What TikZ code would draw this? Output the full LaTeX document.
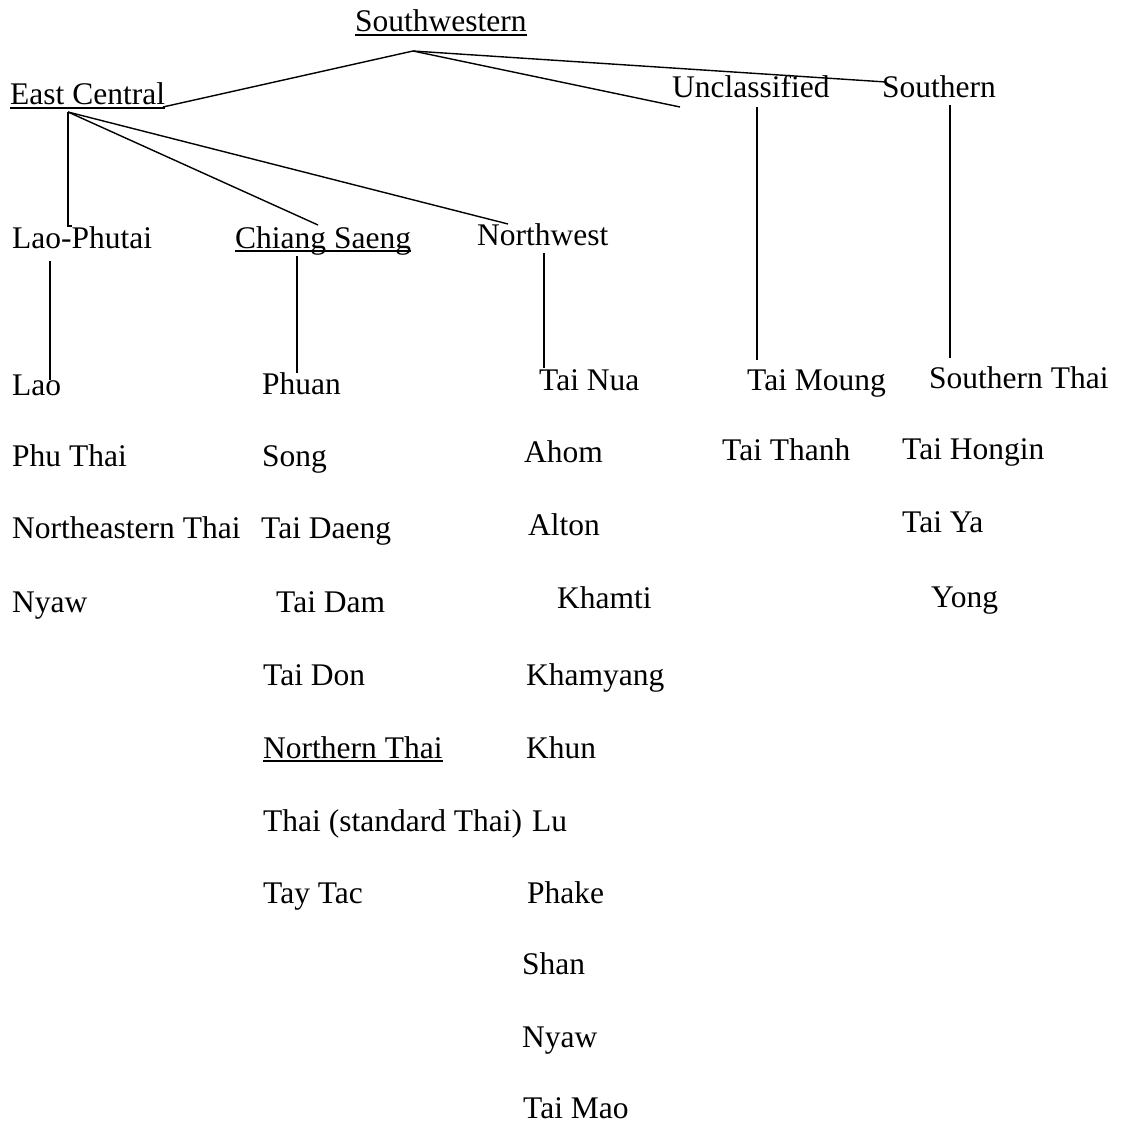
\documentclass[tikz,border=0pt]{standalone}
\usepackage{fontspec}
\setmainfont{Liberation Serif}
\newcommand\dfont{\fontsize{31.5}{36}\selectfont}
\begin{document}
\begin{tikzpicture}[x=1pt,y=-1pt,
  txt/.style={anchor=base west,inner sep=0pt,font=\dfont},
  link/.style={line width=1.4pt},
  uline/.style={line width=1.1pt}]
\useasboundingbox (0,0) rectangle (1121,1126);
% level 0-1
\node[txt] (sw) at (355,32) {Southwestern};
\node[txt] (ec) at (10,105) {East Central};
\node[txt] (un) at (672,98) {Unclassified};
\node[txt] (so) at (882,98) {Southern};
% level 2
\node[txt] (lp) at (12,248) {Lao-Phutai};
\node[txt] (cs) at (235,248) {Chiang Saeng};
\node[txt] (nw) at (477,245) {Northwest};
% column 1
\node[txt] (lao) at (12,395) {Lao};
\node[txt] (pt) at (12,466) {Phu Thai};
\node[txt] (net) at (12,538) {Northeastern Thai};
\node[txt] (ny1) at (12,612) {Nyaw};
% column 2
\node[txt] (ph) at (262,394) {Phuan};
\node[txt] (sg) at (262,466) {Song};
\node[txt] (tde) at (261,538) {Tai Daeng};
\node[txt] (tdm) at (276,612) {Tai Dam};
\node[txt] (tdo) at (263,685) {Tai Don};
\node[txt] (nt) at (263,758) {Northern Thai};
\node[txt] (st) at (263,831) {Thai (standard Thai)};
\node[txt] (tt) at (263,903) {Tay Tac};
% column 3
\node[txt] (tn) at (539,390) {Tai Nua};
\node[txt] (ah) at (524,462) {Ahom};
\node[txt] (al) at (528,535) {Alton};
\node[txt] (kt) at (557,608) {Khamti};
\node[txt] (ky) at (526,685) {Khamyang};
\node[txt] (kh) at (526,758) {Khun};
\node[txt] (lu) at (532,831) {Lu};
\node[txt] (pk) at (527,903) {Phake};
\node[txt] (sh) at (522,974) {Shan};
\node[txt] (ny2) at (522,1047) {Nyaw};
\node[txt] (tm) at (523,1118) {Tai Mao};
% column 4
\node[txt] (tmo) at (747,390) {Tai Moung};
\node[txt] (tth) at (722,460) {Tai Thanh};
% column 5
\node[txt] (sth) at (929,388) {Southern Thai};
\node[txt] (th) at (902,459) {Tai Hongin};
\node[txt] (ty) at (902,532) {Tai Ya};
\node[txt] (yo) at (931,607) {Yong};
% underlines
\foreach \n in {sw,ec,cs,nt}
  \draw[uline] ([yshift=-3pt]\n.base west) -- ([yshift=-3pt]\n.base east);
% junction points
\coordinate (swj) at (413,51);
\coordinate (ecr) at (163,107);
\coordinate (unl) at (680,107);
\coordinate (sol) at (886,82);
\coordinate (ecj) at (68,112);
\coordinate (lpt) at (68,226);
\coordinate (lptr) at (72,226);
\coordinate (cst) at (318,225);
\coordinate (nwt) at (508,224);
\coordinate (lpb) at (50,261);
\coordinate (laot) at (50,380);
\coordinate (csb) at (297,256);
\coordinate (pht) at (297,373);
\coordinate (nwb) at (544,253);
\coordinate (tnt) at (544,368);
\coordinate (unb) at (757,107);
\coordinate (tmot) at (757,360);
\coordinate (sob) at (950,105);
\coordinate (stht) at (950,358);
% connectors
\draw[link] (swj) -- (ecr);
\draw[link] (swj) -- (unl);
\draw[link] (swj) -- (sol);
\draw[link] (ecj) -- (lpt) -- (lptr);
\draw[link] (ecj) -- (cst);
\draw[link] (ecj) -- (nwt);
\draw[link] (lpb) -- (laot);
\draw[link] (csb) -- (pht);
\draw[link] (nwb) -- (tnt);
\draw[link] (unb) -- (tmot);
\draw[link] (sob) -- (stht);
\end{tikzpicture}
\end{document}
